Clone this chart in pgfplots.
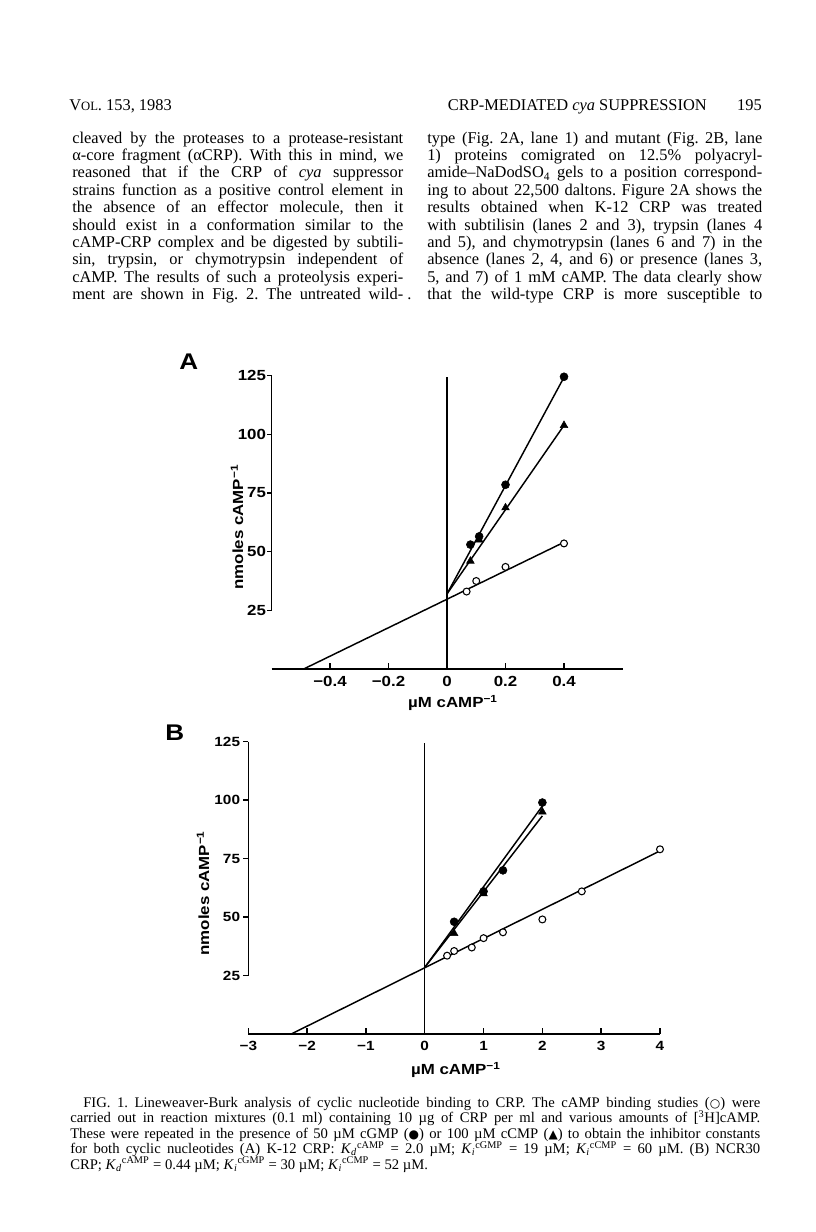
\documentclass[border=0pt]{standalone}
\usepackage{pgfplots}
\pgfplotsset{compat=1.18}
\usepackage{fontspec}
\setmainfont{Liberation Serif}
\newfontfamily\chartfam[FakeStretch=1.15]{Liberation Sans}
\newfontfamily\symfont{DejaVu Sans}
\newcommand\chartA{\chartfam\bfseries\fontsize{11}{13}\selectfont}
\newcommand\chartB{\chartfam\bfseries\fontsize{10}{12}\selectfont}
\newcommand\bodyfont{\fontsize{12.3}{13}\selectfont}
\newcommand\capfont{\fontsize{11}{12}\selectfont}
\newcommand\TL[4]{\node[anchor=base west,inner sep=0pt] at (#1,#2) {\bodyfont\makebox[#3][s]{#4}};}
\newcommand\CL[4]{\node[anchor=base west,inner sep=0pt] at (#1,#2) {\capfont\makebox[#3][s]{#4}};}
\newcommand\Kd[1]{\textit{K}\textsubscript{\textit{d}}\textsuperscript{#1}}
\newcommand\Ki[1]{\textit{K}\textsubscript{\textit{i}}\textsuperscript{#1}}
\frenchspacing
\begin{document}
\begin{tikzpicture}
\path[use as bounding box] (0,0) rectangle (612pt,-924pt);
\begin{scope}[x=0.75pt,y=-0.75pt]
% header
\node[anchor=base west,inner sep=0pt] at (69,110) {\bodyfont V{\fontsize{9.5}{10}\selectfont OL}. 153, 1983};
\node[anchor=base east,inner sep=0pt] at (707,110) {\bodyfont CRP-MEDIATED \textit{cya} SUPPRESSION};
\node[anchor=base east,inner sep=0pt] at (762,110) {\bodyfont 195};
% left column
\TL{72}{143}{248.25pt}{cleaved by the proteases to a protease-resistant}
\TL{72}{160.4}{248.25pt}{α-core fragment (αCRP). With this in mind, we}
\TL{72}{177.8}{248.25pt}{reasoned that if the CRP of \textit{cya} suppressor}
\TL{72}{195.2}{248.25pt}{strains function as a positive control element in}
\TL{72}{212.6}{248.25pt}{the absence of an effector molecule, then it}
\TL{72}{230}{248.25pt}{should exist in a conformation similar to the}
\TL{72}{247.4}{248.25pt}{cAMP-CRP complex and be digested by subtili-}
\TL{72}{264.8}{248.25pt}{sin, trypsin, or chymotrypsin independent of}
\TL{72}{282.2}{248.25pt}{cAMP. The results of such a proteolysis experi-}
\TL{72}{299.6}{248.25pt}{ment are shown in Fig. 2. The untreated wild-}
\node[anchor=base west,inner sep=0pt] at (407,299.6) {\bodyfont .};
% right column
\TL{427}{143}{251.25pt}{type (Fig. 2A, lane 1) and mutant (Fig. 2B, lane}
\TL{427}{160.4}{251.25pt}{1) proteins comigrated on 12.5\% polyacryl-}
\TL{427}{177.8}{251.25pt}{amide–NaDodSO\textsubscript{4} gels to a position correspond-}
\TL{427}{195.2}{251.25pt}{ing to about 22,500 daltons. Figure 2A shows the}
\TL{427}{212.6}{251.25pt}{results obtained when K-12 CRP was treated}
\TL{427}{230}{251.25pt}{with subtilisin (lanes 2 and 3), trypsin (lanes 4}
\TL{427}{247.4}{251.25pt}{and 5), and chymotrypsin (lanes 6 and 7) in the}
\TL{427}{264.8}{251.25pt}{absence (lanes 2, 4, and 6) or presence (lanes 3,}
\TL{427}{282.2}{251.25pt}{5, and 7) of 1 mM cAMP. The data clearly show}
\TL{427}{299.6}{251.25pt}{that the wild-type CRP is more susceptible to}
% panel letters
\node[anchor=base west,inner sep=0pt] at (179,369.5) {\chartfam\bfseries\fontsize{17}{18}\selectfont A};
\node[anchor=base west,inner sep=0pt] at (165,740) {\chartfam\bfseries\fontsize{17}{18}\selectfont B};
% caption
\CL{83}{1107}{507.75pt}{FIG. 1. Lineweaver-Burk analysis of cyclic nucleotide binding to CRP. The cAMP binding studies ({\symfont\fontsize{9}{10}\selectfont ○}) were}
\CL{70}{1122.5}{517.5pt}{carried out in reaction mixtures (0.1 ml) containing 10 µg of CRP per ml and various amounts of [\textsuperscript{3}H]cAMP.}
\CL{70}{1138}{517.5pt}{These were repeated in the presence of 50 µM cGMP ({\symfont\fontsize{9}{10}\selectfont ●}) or 100 µM cCMP ({\symfont\fontsize{9}{10}\selectfont ▲}) to obtain the inhibitor constants}
\CL{70}{1153.5}{517.5pt}{for both cyclic nucleotides (A) K-12 CRP: \Kd{cAMP} = 2.0 µM; \Ki{cGMP} = 19 µM; \Ki{cCMP} = 60 µM. (B) NCR30}
\node[anchor=base west,inner sep=0pt] at (70,1169) {\capfont CRP; \Kd{cAMP} = 0.44 µM; \Ki{cGMP} = 30 µM; \Ki{cCMP} = 52 µM.};
\end{scope}

% ---------------- Panel A ----------------
\begin{axis}[
  at={(203.625pt,-501.75pt)}, anchor=south west,
  scale only axis, width=263.25pt, height=220.05pt,
  xmin=-0.6, xmax=0.6, ymin=0, ymax=125,
  clip=false,
  axis line style={draw=none},
  major tick length=0pt,
  xtick={-0.4,-0.2,0,0.2,0.4},
  xticklabels={−0.4,−0.2,0,0.2,0.4},
  ytick={25,50,75,100,125},
  yticklabels={25,50,75,100,125},
  ticklabel style={font=\chartA},
  xticklabel style={yshift=-2pt},
  yticklabel style={inner sep=0pt, xshift=-4pt},
  xlabel={µM cAMP\textsuperscript{−1}},
  ylabel={nmoles cAMP\textsuperscript{−1}},
  label style={font=\chartA},
  xlabel style={at={(axis description cs:0.517,-0.116)},anchor=center},
  ylabel style={at={(axis description cs:-0.098,0.484)},anchor=center},
]
\draw[line width=1.1pt] (axis cs:-0.6,0) -- (axis cs:0.6,0);
\draw[line width=1.1pt] (axis cs:-0.6,25) -- (axis cs:-0.6,125);
\draw[line width=0.8pt] (axis cs:0,0) -- (axis cs:0,124.5);
\draw[line width=1.1pt] (axis cs:-0.4,0) -- ++(0pt,4.5pt);
\draw[line width=1.1pt] (axis cs:-0.2,0) -- ++(0pt,4.5pt);
\draw[line width=1.1pt] (axis cs:0.2,0) -- ++(0pt,4.5pt);
\draw[line width=1.1pt] (axis cs:0.4,0) -- ++(0pt,4.5pt);
\draw[line width=1.1pt] (axis cs:-0.6,25) -- ++(-3.5pt,0pt);
\draw[line width=1.1pt] (axis cs:-0.6,50) -- ++(-3.5pt,0pt);
\draw[line width=1.1pt] (axis cs:-0.6,75) -- ++(-3.5pt,0pt);
\draw[line width=1.1pt] (axis cs:-0.6,100) -- ++(-3.5pt,0pt);
\draw[line width=1.1pt] (axis cs:-0.6,125) -- ++(-3.5pt,0pt);
% fitted lines
\addplot[black, line width=1.1pt, no marks] coordinates {(-0.49,0) (0.4,54)};
\addplot[black, line width=1.1pt, no marks] coordinates {(0,32) (0.4,124.3)};
\addplot[black, line width=1.1pt, no marks] coordinates {(0,32) (0.4,103.8)};
% data
\addplot[only marks, mark=*, mark size=3pt, black] coordinates {(0.08,53) (0.11,56.5) (0.2,78.5) (0.4,124.5)};
\addplot[only marks, mark=triangle*, mark size=3.3pt, black] coordinates {(0.08,46) (0.11,55) (0.2,68.7) (0.4,103.8)};
\addplot[only marks, mark=*, mark size=2.6pt, mark options={fill=white, draw=black, line width=0.8pt}] coordinates {(0.067,33) (0.1,37.5) (0.2,43.5) (0.4,53.5)};
\end{axis}

% ---------------- Panel B ----------------
\begin{axis}[
  at={(186.225pt,-775.5pt)}, anchor=south west,
  scale only axis, width=308.775pt, height=219.2pt,
  xmin=-3, xmax=4, ymin=0, ymax=125,
  clip=false,
  axis line style={draw=none},
  major tick length=0pt,
  xtick={-3,-2,-1,0,1,2,3,4},
  xticklabels={−3,−2,−1,0,1,2,3,4},
  ytick={25,50,75,100,125},
  yticklabels={25,50,75,100,125},
  ticklabel style={font=\chartB},
  xticklabel style={yshift=-2pt},
  yticklabel style={inner sep=0pt, xshift=-6pt},
  xlabel={µM cAMP\textsuperscript{−1}},
  ylabel={nmoles cAMP\textsuperscript{−1}},
  label style={font=\chartA},
  xlabel style={at={(axis description cs:0.504,-0.123)},anchor=center},
  ylabel style={at={(axis description cs:-0.110,0.482)},anchor=center},
]
\draw[line width=1.1pt] (axis cs:-3,0) -- (axis cs:4,0);
\draw[line width=1.1pt] (axis cs:-3,25) -- (axis cs:-3,125);
\draw[line width=0.8pt] (axis cs:0,0) -- (axis cs:0,124.3);
\draw[line width=1.1pt] (axis cs:-3,0) -- ++(0pt,4.5pt);
\draw[line width=1.1pt] (axis cs:-2,0) -- ++(0pt,4.5pt);
\draw[line width=1.1pt] (axis cs:-1,0) -- ++(0pt,4.5pt);
\draw[line width=1.1pt] (axis cs:1,0) -- ++(0pt,4.5pt);
\draw[line width=1.1pt] (axis cs:2,0) -- ++(0pt,4.5pt);
\draw[line width=1.1pt] (axis cs:3,0) -- ++(0pt,4.5pt);
\draw[line width=1.1pt] (axis cs:4,0) -- ++(0pt,4.5pt);
\draw[line width=1.1pt] (axis cs:-3,25) -- ++(-4pt,0pt);
\draw[line width=1.1pt] (axis cs:-3,50) -- ++(-4pt,0pt);
\draw[line width=1.1pt] (axis cs:-3,75) -- ++(-4pt,0pt);
\draw[line width=1.1pt] (axis cs:-3,100) -- ++(-4pt,0pt);
\draw[line width=1.1pt] (axis cs:-3,125) -- ++(-4pt,0pt);
% fitted lines
\addplot[black, line width=1.1pt, no marks] coordinates {(-2.27,0) (4,78.3)};
\addplot[black, line width=1.1pt, no marks] coordinates {(0,28.5) (2,97.5)};
\addplot[black, line width=1.1pt, no marks] coordinates {(0,28.5) (2,93.3)};
% data
\addplot[only marks, mark=*, mark size=3pt, black] coordinates {(0.5,48) (1,61) (1.33,70) (2,99)};
\addplot[only marks, mark=triangle*, mark size=3.3pt, black] coordinates {(0.5,43) (1,60) (2,95)};
\addplot[only marks, mark=*, mark size=2.6pt, mark options={fill=white, draw=black, line width=0.8pt}] coordinates {(0.38,33.5) (0.5,35.5) (0.8,37) (1,41) (1.33,43.5) (2,49) (2.67,61) (4,79)};
\end{axis}
\end{tikzpicture}
\end{document}
